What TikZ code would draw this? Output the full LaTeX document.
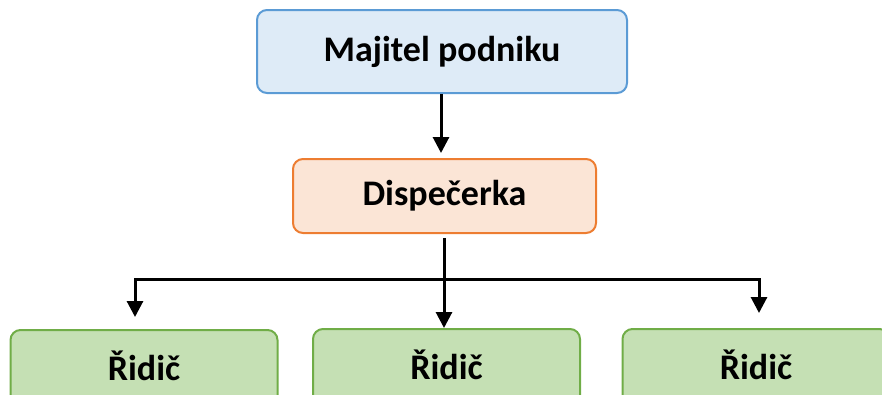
\documentclass[tikz,border=0pt]{standalone}
\usepackage{fontspec}
\setmainfont{Carlito}
\usetikzlibrary{arrows.meta}
\definecolor{blueFill}{HTML}{DEEBF7}
\definecolor{blueLine}{HTML}{5B9BD5}
\definecolor{orangeFill}{HTML}{FBE5D6}
\definecolor{orangeLine}{HTML}{ED7D31}
\definecolor{greenFill}{HTML}{C5E0B4}
\definecolor{greenLine}{HTML}{70AD47}
\tikzset{
  lbl/.style={font=\fontsize{36}{40}\selectfont\bfseries},
  box/.style={draw, line width=2pt, rounded corners=10pt, inner sep=0pt, lbl},
  topbox/.style={box, draw=blueLine, fill=blueFill, minimum width=370pt, minimum height=83pt},
  dispbox/.style={box, draw=orangeLine, fill=orangeFill, minimum width=303pt, minimum height=74pt},
  drvbox/.style={box, draw=greenLine, fill=greenFill, minimum width=267pt, minimum height=90pt},
  conn/.style={line width=3pt, -{Triangle[length=16pt,width=16pt]}},
  plain/.style={line width=3pt}
}
\begin{document}
\begin{tikzpicture}[x=1pt,y=-1pt]
\useasboundingbox (0,0) rectangle (882,394);
\node[topbox] (top) at (442,51.5) {Majitel podniku};
\node[dispbox] (disp) at (444.5,196) {Dispečerka};
\node[drvbox, anchor=north] (r1) at (144,329) {};
\node[drvbox, anchor=north] (r2) at (446.5,328) {};
\node[drvbox, anchor=north] (r3) at (756,328) {};
\node[lbl] (t1) at (144,366) {Řidič};
\node[lbl] (t2) at (446.5,365) {Řidič};
\node[lbl] (t3) at (756,365) {Řidič};
\coordinate (j) at (444,279);
\coordinate (b1) at (135,279);
\coordinate (b3) at (759,279);
\coordinate (e1) at (135,317);
\coordinate (e3) at (759,313);
\draw[conn, shorten >=5pt] (top.south -| 441,0) -- (disp.north -| 441,0);
\draw[plain] ([yshift=-4pt]disp.south -| j) -- (j);
\draw[conn] (j) -- (r2.north -| j);
\draw[conn] ([xshift=1.5pt]j) -- (b1) -- (e1);
\draw[conn] ([xshift=-1.5pt]j) -- (b3) -- (e3);
\end{tikzpicture}
\end{document}
